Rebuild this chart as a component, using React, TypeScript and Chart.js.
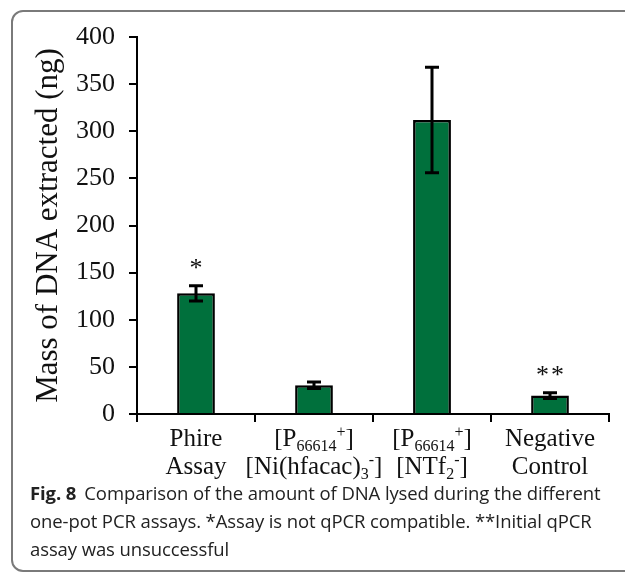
import React, { useEffect, useRef } from 'react';
import { Chart, registerables } from 'chart.js';

Chart.register(...registerables);

// ---- data ----
const categories: string[][] = [
  ['Phire', 'Assay'],
  ['[P_{66614}^{+}]', '[Ni(hfacac)_{3}^{-}]'],
  ['[P_{66614}^{+}]', '[NTf_{2}^{-}]'],
  ['Negative', 'Control'],
];
const massValues = [128, 30.5, 312, 19.5];
const errorValues = [8, 3.5, 56, 3];
const significance = ['*', '', '', '**'];
const yMin = 0;
const yMax = 400;
const yStep = 50;
const yTitle = 'Mass of DNA extracted (ng)';
const captionLead = 'Fig. 8';
const captionLines = [
  'Comparison of the amount of DNA lysed during the different',
  'one-pot PCR assays. *Assay is not qPCR compatible. **Initial qPCR',
  'assay was unsuccessful',
];

// ---- styles ----
const SERIF = '"Liberation Serif", "Times New Roman", serif';
const BAR_GREEN = '#00703c';
const INK = '#111111';

type Seg = { t: string; k: 'n' | 'sub' | 'sup' };
function parseRich(s: string): Seg[] {
  const out: Seg[] = [];
  const re = /_\{([^}]*)\}|\^\{([^}]*)\}|([^_^]+)/g;
  let m: RegExpExecArray | null;
  while ((m = re.exec(s))) {
    if (m[1] !== undefined) out.push({ t: m[1], k: 'sub' });
    else if (m[2] !== undefined) out.push({ t: m[2], k: 'sup' });
    else out.push({ t: m[3], k: 'n' });
  }
  return out;
}

function drawRich(ctx: CanvasRenderingContext2D, s: string, cx: number, y: number) {
  const segs = parseRich(s);
  const mainFont = `25px ${SERIF}`;
  const smallFont = `16px ${SERIF}`;
  let total = 0;
  const widths = segs.map((sg) => {
    ctx.font = sg.k === 'n' ? mainFont : smallFont;
    const w = ctx.measureText(sg.t).width;
    total += w;
    return w;
  });
  let x = cx - total / 2;
  ctx.textAlign = 'left';
  ctx.textBaseline = 'alphabetic';
  ctx.fillStyle = INK;
  segs.forEach((sg, i) => {
    ctx.font = sg.k === 'n' ? mainFont : smallFont;
    const dy = sg.k === 'sub' ? 5 : sg.k === 'sup' ? -9 : 0;
    ctx.fillText(sg.t, x, y + dy);
    x += widths[i];
  });
}

const xLabelPlugin = {
  id: 'richXLabels',
  afterDraw(chart: any) {
    const ctx: CanvasRenderingContext2D = chart.ctx;
    const xs = chart.scales.x;
    const bottom = chart.chartArea.bottom;
    ctx.save();
    categories.forEach((lines, i) => {
      const cx = xs.getPixelForValue(i);
      lines.forEach((line, j) => {
        drawRich(ctx, line, cx, bottom + 32 + j * 28);
      });
    });
    ctx.restore();
  },
};

const errorBarPlugin = {
  id: 'errorBars',
  afterDatasetsDraw(chart: any) {
    const ctx: CanvasRenderingContext2D = chart.ctx;
    const ys = chart.scales.y;
    const meta = chart.getDatasetMeta(0);
    ctx.save();
    ctx.strokeStyle = '#000';
    ctx.lineWidth = 3;
    meta.data.forEach((bar: any, i: number) => {
      const v = massValues[i];
      const e = errorValues[i];
      const yTop = ys.getPixelForValue(v + e);
      const yBot = ys.getPixelForValue(v - e);
      const x = bar.x;
      const hw = 7;
      ctx.beginPath();
      ctx.moveTo(x, yTop);
      ctx.lineTo(x, yBot);
      ctx.moveTo(x - hw, yTop);
      ctx.lineTo(x + hw, yTop);
      ctx.moveTo(x - hw, yBot);
      ctx.lineTo(x + hw, yBot);
      ctx.stroke();
      const mark = significance[i];
      if (mark) {
        ctx.fillStyle = INK;
        ctx.font = `26px ${SERIF}`;
        ctx.textAlign = 'center';
        ctx.textBaseline = 'alphabetic';
        (ctx as any).letterSpacing = '2px';
        ctx.fillText(mark, x + 1, yTop - 10);
        (ctx as any).letterSpacing = '0px';
      }
    });
    ctx.restore();
  },
};

export default function App() {
  const ref = useRef<HTMLCanvasElement | null>(null);

  useEffect(() => {
    if (!ref.current) return;
    const chart = new Chart(ref.current, {
      type: 'bar',
      data: {
        labels: categories.map((c) => c.join(' ')),
        datasets: [
          {
            data: massValues,
            backgroundColor: BAR_GREEN,
            borderColor: '#000',
            borderWidth: 2.5,
            categoryPercentage: 1,
            barPercentage: 0.32,
          },
        ],
      },
      options: {
        responsive: false,
        animation: false,
        devicePixelRatio: 1,
        layout: { padding: { left: 26, right: 16, top: 37, bottom: 0 } },
        plugins: { legend: { display: false }, tooltip: { enabled: false } },
        scales: {
          x: {
            type: 'category',
            grid: {
              offset: true,
              drawOnChartArea: false,
              drawTicks: true,
              tickLength: 8,
              color: '#000',
              lineWidth: 2,
            },
            border: { display: true, color: '#000', width: 2 },
            ticks: { display: false },
            afterFit(s: any) {
              s.height = 76;
            },
          },
          y: {
            min: yMin,
            max: yMax,
            ticks: {
              stepSize: yStep,
              font: { family: SERIF, size: 26 },
              color: INK,
              padding: 14,
            },
            grid: {
              drawOnChartArea: false,
              drawTicks: true,
              tickLength: 8,
              color: '#000',
              lineWidth: 2,
            },
            border: { display: true, color: '#000', width: 2 },
            title: {
              display: true,
              text: yTitle,
              font: { family: SERIF, size: 31 },
              color: INK,
              padding: { top: 4, bottom: 4 },
            },
            afterFit(s: any) {
              s.width = 111;
            },
          },
        },
      } as any,
      plugins: [errorBarPlugin, xLabelPlugin],
    });
    return () => chart.destroy();
  }, []);

  return (
    <div
      style={{
        position: 'fixed',
        left: 0,
        top: 0,
        width: 625,
        height: 573,
        overflow: 'hidden',
        background: '#fff',
      }}
    >
      <div
        style={{
          position: 'absolute',
          left: 11,
          top: 10,
          width: 700,
          height: 562,
          border: '2px solid #7a7a7a',
          borderRadius: 12,
          boxSizing: 'border-box',
        }}
      />
      <canvas
        ref={ref}
        width={625}
        height={490}
        style={{ position: 'absolute', left: 0, top: 0, width: 625, height: 490 }}
      />
      <div
        style={{
          position: 'absolute',
          left: 30,
          top: 479,
          fontFamily: '"Open Sans", "Noto Sans", sans-serif',
          fontSize: 18.5,
          lineHeight: '28px',
          color: '#222',
          whiteSpace: 'nowrap',
          letterSpacing: '-0.1px',
        }}
      >
        {captionLines.map((line, i) => (
          <div key={i}>
            {i === 0 ? (
              <span style={{ fontWeight: 700, marginRight: 8 }}>{captionLead}</span>
            ) : null}
            {line}
          </div>
        ))}
      </div>
    </div>
  );
}
